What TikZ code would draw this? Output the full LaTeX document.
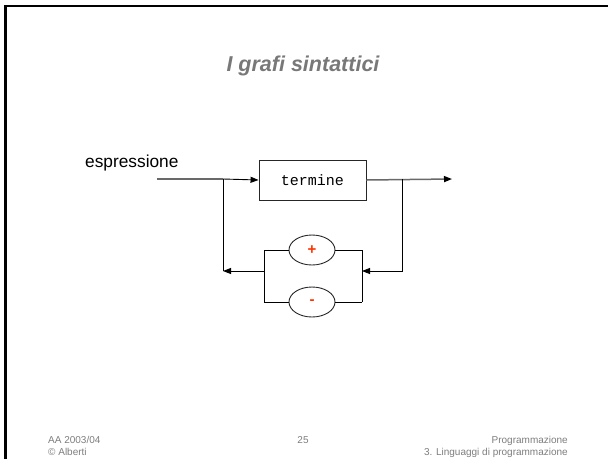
\documentclass[tikz,border=0pt]{standalone}
\usepackage{fontspec}
\setmainfont{Liberation Sans}
\newfontfamily\Courier{Liberation Mono}
\usepackage{xcolor}
\definecolor{ColTitle}{RGB}{120,120,120}
\definecolor{ColSign}{RGB}{255,51,0}
\definecolor{ColFoot}{RGB}{125,125,125}
\definecolor{ColFlow}{RGB}{105,105,105}
\usepackage{tikz}
\usetikzlibrary{shapes}
\usetikzlibrary{arrows.meta}
\tikzstyle{Box}=[draw=black!85,line width=.9pt,minimum width=107pt,
minimum height=40pt,inner sep=0pt,font=\Courier\fontsize{15}{15}\selectfont]
\tikzstyle{Oval}=[ellipse,draw=black!85,line width=.9pt,minimum width=46pt,
minimum height=30pt,inner sep=0pt,text=ColSign,
font=\bfseries\fontsize{15}{15}\selectfont]
\tikzstyle{Edge}=[draw=black,line width=.9pt]
\tikzstyle{Flow}=[draw=ColFlow,line width=1.5pt]
\tikzstyle{Tip}=[-{Triangle[length=8pt,width=6pt,color=black]}]
\tikzstyle{Foot}=[text=ColFoot,inner sep=0pt,align=left,
font=\fontsize{10}{11.5}\selectfont]

\begin{document}
\begin{tikzpicture}[x=1pt,y=-1pt]
            \useasboundingbox(0.00,0.00)rectangle(608.00,459.00);
            % slide frame
            \draw[line width=2.4pt](5.50,459.00)--(5.50,6.20)--(608.00,6.20);
            \node[text=ColTitle,font=\bfseries\itshape\fontsize{21.5}{21.5}\selectfont,
                anchor=base](title)at(303.00,71.00){I grafi sintattici};
            \node[anchor=base west,inner sep=0pt,font=\fontsize{17.3}{17.3}\selectfont]
                (lab)at(85.00,167.00){espressione};
            \node[Box](t)at(312.50,180.00){termine};
            \node[Oval](p)at(312.00,250.00){+};
            \node[Oval](m)at(312.00,302.00){-};
            \coordinate(0)at(157.00,179.00);
            \coordinate(1)at(223.00,179.00);
            \coordinate(2)at(223.00,271.00);
            \coordinate(3)at(264.00,271.00);
            \coordinate(4)at(264.00,250.00);
            \coordinate(5)at(264.00,302.00);
            \coordinate(6)at(362.00,250.00);
            \coordinate(7)at(362.00,302.00);
            \coordinate(8)at(362.00,271.00);
            \coordinate(9)at(402.00,179.00);
            \coordinate(10)at(402.00,271.00);
            \coordinate(11)at(452.00,179.00);
            % main line through the term
            \draw[Flow](0)--(1);
            \draw[Edge,Tip](1)--(t.west);
            \draw[Flow,Tip](t.east)--(11);
            % loop back through the signs
            \draw[Edge,Tip](9)--(10)--(8);
            \draw[Edge](4)--(5);
            \draw[Edge](6)--(7);
            \draw[Edge](4)--(p.west);
            \draw[Edge](p.east)--(6);
            \draw[Edge](5)--(m.west);
            \draw[Edge](m.east)--(7);
            \draw[Edge,Tip](3)--(2);
            \draw[Edge](2)--(1);
            % footer
            \node[Foot,anchor=north west](aa)at(48.00,436.50)
                {AA 2003/04\\\textcopyright{} Alberti};
            \node[Foot,anchor=north](nr)at(303.00,436.50){25};
            \node[Foot,anchor=north east,align=right](course)at(568.00,436.50)
                {Programmazione\\3. Linguaggi di programmazione};
        \end{tikzpicture}
\end{document}
